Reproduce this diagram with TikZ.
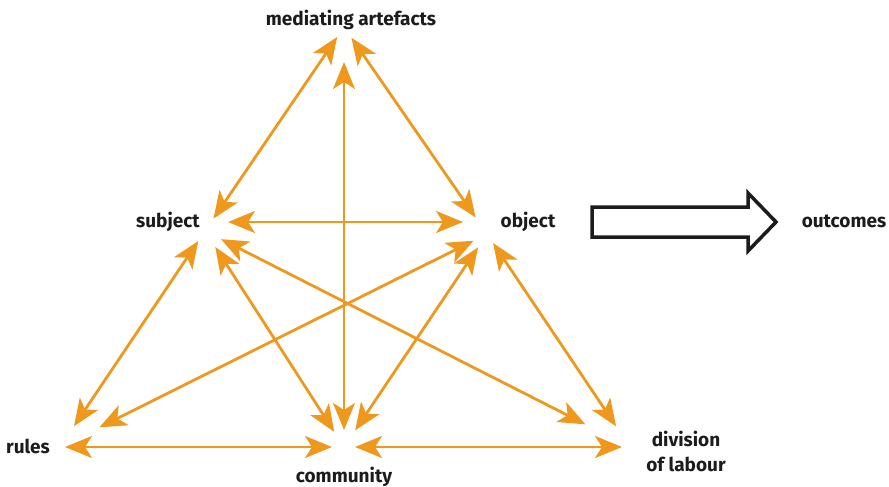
\documentclass[tikz,border=0pt]{standalone}
\usepackage{fontspec}
\setmainfont{Fira Sans}
\usepackage{tikz}
\usetikzlibrary{arrows.meta, positioning}
\definecolor{linkOrange}{RGB}{238,152,30}
\definecolor{labelInk}{RGB}{28,28,28}

\begin{document}
\begin{tikzpicture}[x=1pt, y=-1pt,
    >={Stealth[length=27pt, width=22pt, inset=7pt]},
    vertex/.style={font=\fontsize{19}{25}\selectfont\bfseries, text=labelInk, align=center, inner sep=0pt},
    link/.style={<->, linkOrange, line width=2.8pt}]
    \useasboundingbox (0,0) rectangle (889,487);

    % Hubs the arrows point to
    \coordinate (medHub) at (344,27);
    \coordinate (subjHub) at (205,231);
    \coordinate (objHub) at (487,234);
    \coordinate (rulesHub) at (60,447);
    \coordinate (commHub) at (344,447);
    \coordinate (divHub) at (630,447);

    % Labels
    \node[vertex, anchor=base] (med) at (351,26) {mediating artefacts};
    \node[vertex, anchor=base] (subj) at (168,227) {subject};
    \node[vertex, anchor=base] (obj) at (528,227) {object};
    \node[vertex, anchor=base] (rules) at (28,453) {rules};
    \node[vertex, anchor=base] (comm) at (344,482) {community};
    \node[vertex, anchor=north] (div) at (686,431) {division\\of labour};
    \node[vertex, anchor=base] (out) at (844,227) {outcomes};

    % Outer triangle
    \draw[link, shorten <=12pt, shorten >=15pt] (medHub) -- (subjHub);
    \draw[link, shorten <=13pt, shorten >=20pt] (medHub) -- (objHub);
    \draw[link, shorten <=12pt, shorten >=25pt] (subjHub) -- (rulesHub);
    \draw[link, shorten <=11pt, shorten >=25pt] (objHub) -- (divHub);
    \draw[link, shorten <=5pt, shorten >=12pt] (rulesHub) -- (commHub);
    \draw[link, shorten <=11pt, shorten >=8pt] (commHub) -- (divHub);

    % Inner triangle
    \draw[link, shorten <=23pt, shorten >=24pt] ([yshift=9pt]subjHub) -- ([yshift=12pt]objHub);
    \draw[link, shorten <=19pt, shorten >=18pt] (subjHub) -- (commHub);
    \draw[link, shorten <=16pt, shorten >=20pt] (objHub) -- (commHub);

    % Crossing lines
    \draw[link, shorten <=35pt, shorten >=17pt] (medHub) -- (commHub);
    \draw[link, shorten <=18pt, shorten >=50pt] (subjHub) -- (divHub);
    \draw[link, shorten <=15pt, shorten >=44pt] (objHub) -- (rulesHub);

    % Outcome arrow
    \draw[line width=3.5pt, line join=miter, labelInk]
        (592,207) -- (748,207) -- (748,193) -- (776,222) -- (748,251) -- (748,237) -- (592,237) -- cycle;
\end{tikzpicture}
\end{document}
